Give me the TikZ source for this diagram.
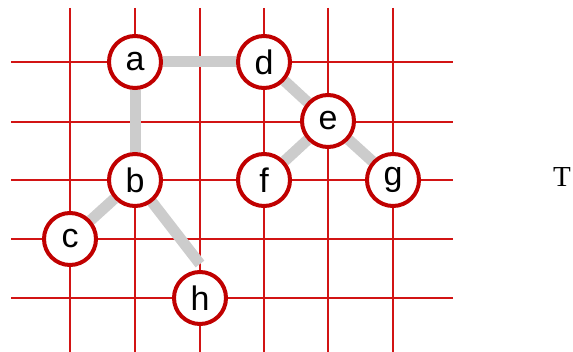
\documentclass[tikz,border=0pt]{standalone}
\usepackage{fontspec}
\setmainfont{Liberation Serif}
\setsansfont{Liberation Sans}
\usetikzlibrary{backgrounds}
\begin{document}
\begin{tikzpicture}[x=1pt,y=-1pt,
  gridline/.style={draw=gridred,line width=1.3pt},
  vtx/.style={circle,draw=nodered,fill=white,line width=4pt,minimum size=52pt,inner sep=0pt,
    font=\sffamily\fontsize{34}{34}\selectfont},
  treeedge/.style={draw=edgegray,line width=11pt}]
\definecolor{gridred}{RGB}{210,20,20}
\definecolor{nodered}{RGB}{192,0,0}
\definecolor{edgegray}{RGB}{204,204,204}
\useasboundingbox (0,0) rectangle (573,352);
% grid
\begin{scope}[on background layer]
\foreach \x in {70,135,200,264,328,393} \draw[gridline] (\x,8) -- (\x,352);
\foreach \y in {62,122,180,239,298} \draw[gridline] (11,\y) -- (453,\y);
\end{scope}
% nodes
\node[vtx] (a) at (135,62) {a};
\node[vtx] (d) at (264,62) {d};
\node[vtx] (e) at (328,121) {e};
\node[vtx] (b) at (135,180) {b};
\node[vtx] (f) at (264,180) {f};
\node[vtx] (g) at (393,180) {g};
\node[vtx] (c) at (70,239) {c};
\node[vtx] (h) at (200,298) {h};
% edges over grid, behind nodes
\begin{scope}[on background layer]
\draw[treeedge] (a) -- (d);
\draw[treeedge] (a) -- (b);
\draw[treeedge] (d) -- (e);
\draw[treeedge] (e) -- (f);
\draw[treeedge] (e) -- (g);
\draw[treeedge] (b) -- (c);
\draw[treeedge] (b.center) -- ([yshift=6pt]h.north);
\end{scope}
% T label
\node[font=\fontsize{29}{29}\selectfont,inner sep=0pt,anchor=base] (t) at (562,187) {T};
\end{tikzpicture}
\end{document}
